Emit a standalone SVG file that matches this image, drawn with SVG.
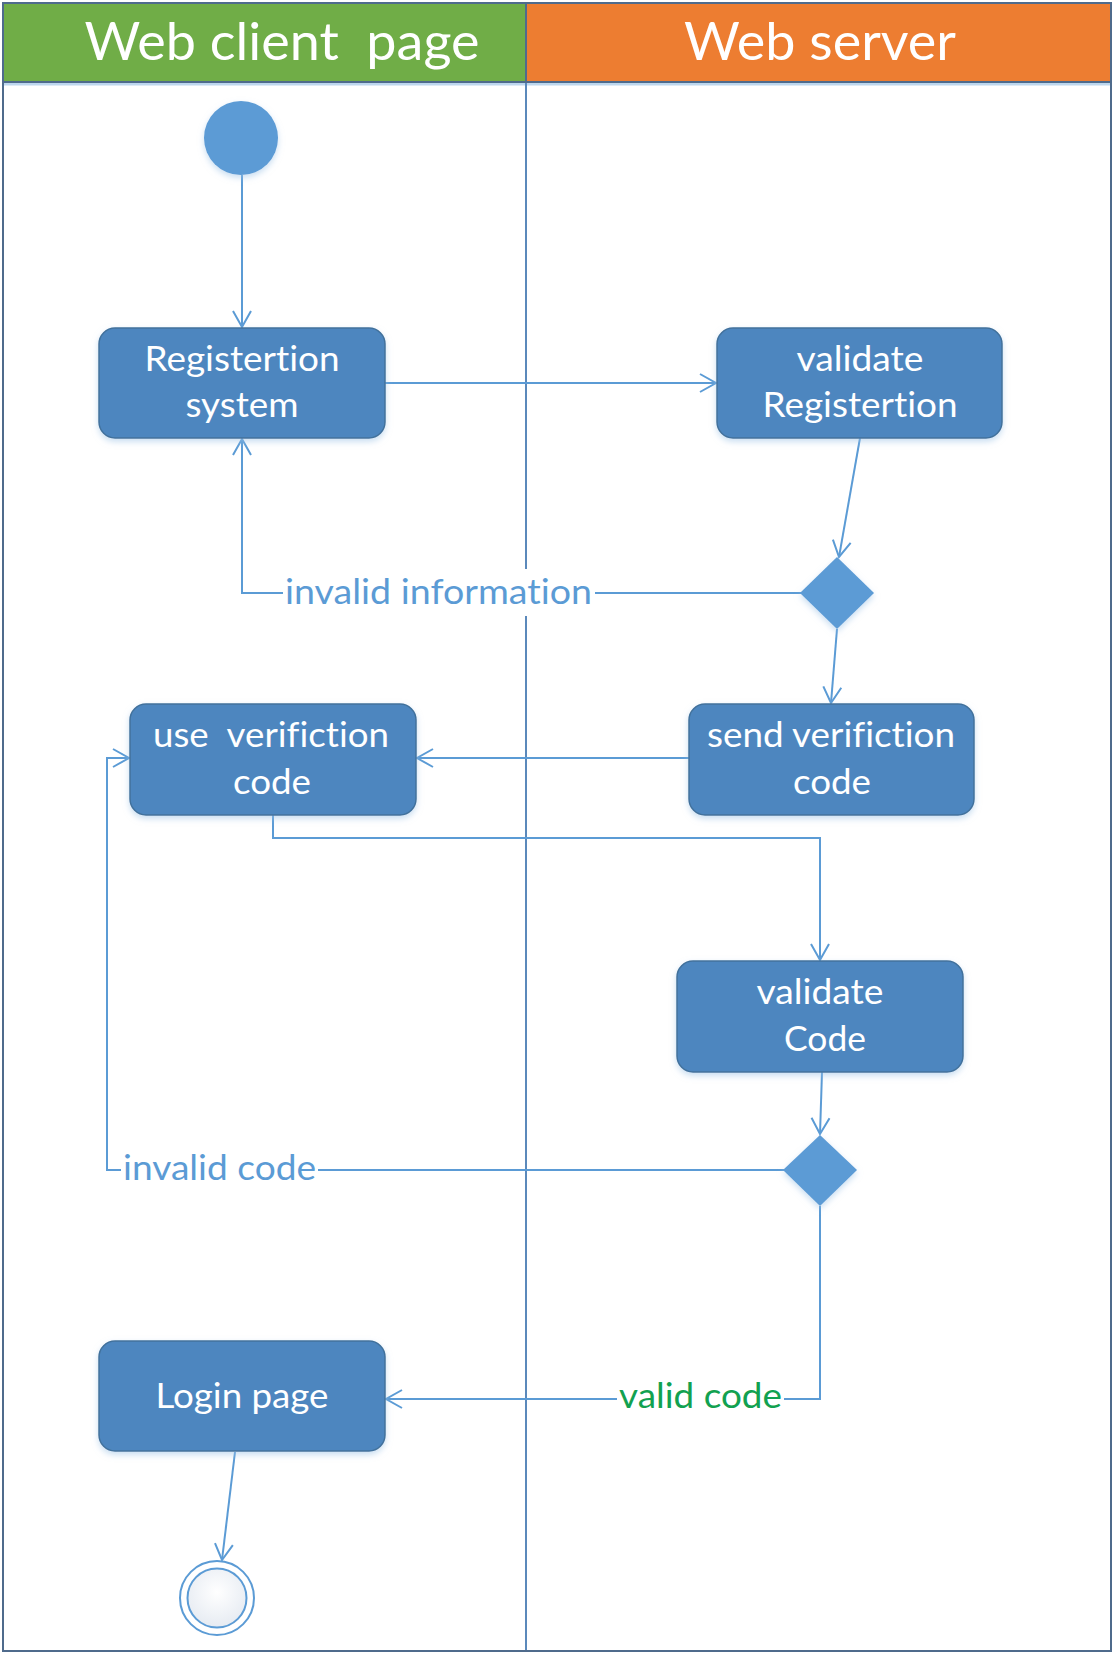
<svg xmlns="http://www.w3.org/2000/svg" width="1114" height="1654" viewBox="0 0 1114 1654">
  <style>
    text { font-variant-ligatures: none; font-feature-settings: "liga" 0, "clig" 0, "dlig" 0, "calt" 0; white-space: pre; }
    .lane-title { font-family: Lato, "Open Sans", "Liberation Sans", sans-serif; font-size: 53px; fill: #ffffff; text-anchor: middle; }
    .box { fill: #4e86bf; stroke: #41719c; stroke-width: 1.5; filter: url(#soft); }
    .box-text { font-family: Lato, "Open Sans", "Liberation Sans", sans-serif; font-size: 35.5px; fill: #ffffff; text-anchor: middle; }
    .flow { fill: none; stroke: #5b9bd5; stroke-width: 2; }
    .arrow { marker-end: url(#open-arrow); }
    .label { font-family: Lato, "Open Sans", "Liberation Sans", sans-serif; font-size: 35.5px; fill: #5b9bd5; }
    .label.ok { fill: #12a150; }
    .label-bg { fill: #ffffff; }
    .decision { fill: #5b9bd5; filter: url(#soft); }
    .lane-line { stroke: #5b89bb; stroke-width: 2; fill: none; }
  </style>
  <defs>
    <marker id="open-arrow" markerUnits="userSpaceOnUse" markerWidth="20" markerHeight="22" viewBox="0 0 20 22" refX="17" refY="11" orient="auto">
      <path d="M1,2 L17,11 L1,20" fill="none" stroke="#5b9bd5" stroke-width="2"/>
    </marker>
    <filter id="soft" x="-20%" y="-20%" width="140%" height="150%">
      <feDropShadow dx="0" dy="3" stdDeviation="3" flood-color="#9dc3e6" flood-opacity="0.55"/>
    </filter>
    <radialGradient id="final-fill" cx="0.5" cy="0.4" r="0.6">
      <stop offset="0" stop-color="#ffffff"/>
      <stop offset="1" stop-color="#e6ebf2"/>
    </radialGradient>
  </defs>

  <!-- swimlanes -->
  <g id="lanes">
    <rect x="0" y="0" width="1114" height="1654" fill="#ffffff"/>
    <rect x="3" y="3" width="523" height="79" fill="#70ad47"/>
    <rect x="526" y="3" width="585" height="79" fill="#ed7d31"/>
    <line x1="3" y1="84" x2="1111" y2="84" stroke="#bdd7ee" stroke-width="3"/>
    <line class="lane-line" x1="526" y1="82" x2="526" y2="1651"/>
    <line x1="3" y1="82" x2="1111" y2="82" stroke="#4f6b8c" stroke-width="2"/>
    <line x1="526" y1="3" x2="526" y2="82" stroke="#4f6b8c" stroke-width="2"/>
    <rect x="3" y="3" width="1108" height="1648" fill="none" stroke="#4f6b8c" stroke-width="2"/>
    <text class="lane-title" x="282" y="60" textLength="395" lengthAdjust="spacingAndGlyphs" xml:space="preserve">Web client  page</text>
    <text class="lane-title" x="820" y="60" textLength="272" lengthAdjust="spacingAndGlyphs">Web server</text>
  </g>

  <!-- connectors -->
  <g id="connectors">
    <path class="flow arrow" d="M242,175 L242,327"/>
    <path class="flow arrow" d="M385,383 L716,383"/>
    <path class="flow arrow" d="M860,438 L839,557"/>
    <path class="flow arrow" d="M801,593 L242,593 L242,439"/>
    <path class="flow arrow" d="M837,629 L831,703"/>
    <path class="flow arrow" d="M689,758 L417,758"/>
    <path class="flow arrow" d="M273,815 L273,838 L820,838 L820,960"/>
    <path class="flow arrow" d="M822,1072 L820,1134"/>
    <path class="flow arrow" d="M784,1170 L107,1170 L107,758 L129,758"/>
    <path class="flow arrow" d="M820,1206 L820,1399 L386,1399"/>
    <path class="flow arrow" d="M235,1452 L222,1560"/>

    <rect class="label-bg" x="283" y="569" width="312" height="47"/>
    <text class="label" x="285" y="604" textLength="307" lengthAdjust="spacingAndGlyphs">invalid information</text>
    <rect class="label-bg" x="121" y="1147" width="197" height="45"/>
    <text class="label" x="123" y="1180" textLength="193" lengthAdjust="spacingAndGlyphs">invalid code</text>
    <rect class="label-bg" x="617" y="1376" width="167" height="45"/>
    <text class="label ok" x="619" y="1408" textLength="163" lengthAdjust="spacingAndGlyphs">valid code</text>
  </g>

  <!-- start -->
  <g id="start">
    <circle cx="241" cy="138" r="37" fill="#5b9bd5" filter="url(#soft)"/>
  </g>

  <g id="registration-system">
    <rect class="box" x="99" y="328" width="286" height="110" rx="16"/>
    <text class="box-text" x="242" y="371" textLength="195" lengthAdjust="spacingAndGlyphs">Registertion</text>
    <text class="box-text" x="242" y="417" textLength="113" lengthAdjust="spacingAndGlyphs">system</text>
  </g>

  <g id="validate-registration">
    <rect class="box" x="717" y="328" width="285" height="110" rx="16"/>
    <text class="box-text" x="860" y="371" textLength="127" lengthAdjust="spacingAndGlyphs">validate</text>
    <text class="box-text" x="860" y="417" textLength="195" lengthAdjust="spacingAndGlyphs">Registertion</text>
  </g>

  <g id="decision-registration">
    <polygon class="decision" points="837,557 874,593 837,629 800,593"/>
  </g>

  <g id="use-code">
    <rect class="box" x="130" y="704" width="286" height="111" rx="16"/>
    <text class="box-text" x="271" y="747" textLength="236" lengthAdjust="spacingAndGlyphs" xml:space="preserve">use  verifiction</text>
    <text class="box-text" x="272" y="794" textLength="78" lengthAdjust="spacingAndGlyphs">code</text>
  </g>

  <g id="send-code">
    <rect class="box" x="689" y="704" width="285" height="111" rx="16"/>
    <text class="box-text" x="831" y="747" textLength="248" lengthAdjust="spacingAndGlyphs">send verifiction</text>
    <text class="box-text" x="832" y="794" textLength="78" lengthAdjust="spacingAndGlyphs">code</text>
  </g>

  <g id="validate-code">
    <rect class="box" x="677" y="961" width="286" height="111" rx="16"/>
    <text class="box-text" x="820" y="1004" textLength="127" lengthAdjust="spacingAndGlyphs">validate</text>
    <text class="box-text" x="825" y="1051" textLength="82" lengthAdjust="spacingAndGlyphs">Code</text>
  </g>

  <g id="decision-code">
    <polygon class="decision" points="820,1135 857,1170 820,1206 783,1170"/>
  </g>

  <g id="login-page">
    <rect class="box" x="99" y="1341" width="286" height="110" rx="16"/>
    <text class="box-text" x="242" y="1408" textLength="173" lengthAdjust="spacingAndGlyphs">Login page</text>
  </g>

  <!-- end -->
  <g id="end">
    <circle cx="217" cy="1598" r="37" fill="#ffffff" stroke="#5b9bd5" stroke-width="2"/>
    <circle cx="217" cy="1598" r="29.5" fill="url(#final-fill)" stroke="#5b9bd5" stroke-width="2"/>
  </g>
</svg>
